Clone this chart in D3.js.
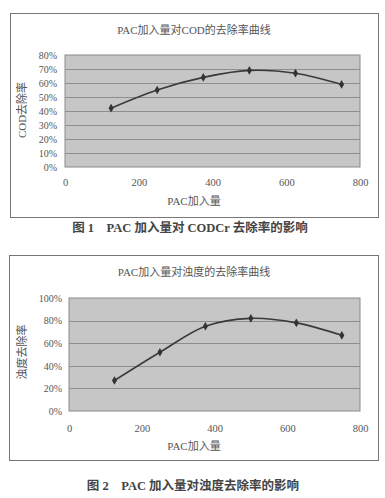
<!DOCTYPE html>
<html>
<head>
<meta charset="utf-8">
<script src="https://cdn.jsdelivr.net/npm/d3@7"></script>
<style>
  html, body { margin: 0; padding: 0; background: #fff; }
  text { font-family: "Liberation Serif", "DejaVu Serif", "Noto Sans CJK SC", serif; }
</style>
</head>
<body>
<div id="page"></div>
<script>
(function() {

  "use strict";

  // PAC dosage (x) and removal rates
  var dosage = [125, 250, 375, 500, 625, 750];
  var codRemoval = [0.42, 0.55, 0.64, 0.69, 0.67, 0.59];
  var turbidityRemoval = [0.27, 0.52, 0.75, 0.82, 0.78, 0.67];

  var xTicks = [0, 200, 400, 600, 800];
  var codTicks = [0, 0.1, 0.2, 0.3, 0.4, 0.5, 0.6, 0.7, 0.8];
  var turbTicks = [0, 0.2, 0.4, 0.6, 0.8, 1.0];

  var titles = ["PAC加入量对COD的去除率曲线", "PAC加入量对浊度的去除率曲线"];
  var yTitles = ["COD去除率", "浊度去除率"];
  var xTitle = "PAC加入量";
  var captions = ["图 1    PAC 加入量对 CODCr 去除率的影响", "图 2    PAC 加入量对浊度去除率的影响"];

  /* * * * * * * * * * * * * * * * * * * */

  var svg = d3.select("#page").append("svg")
    .attr("width", 385)
    .attr("height", 498);

  function drawChart(opt) {

    var g = svg.append("g");

    // outer chart frame
    g.append("rect")
      .attr("x", opt.box[0] + 0.5)
      .attr("y", opt.box[1] + 0.5)
      .attr("width", opt.box[2] - opt.box[0])
      .attr("height", opt.box[3] - opt.box[1])
      .attr("fill", "#fff")
      .attr("stroke", "#777")
      .attr("stroke-width", 1);

    g.append("text")
      .attr("x", 194)
      .attr("y", opt.titleY)
      .attr("text-anchor", "middle")
      .attr("font-size", 11)
      .attr("fill", "#555")
      .text(opt.title);

    var x = d3.scaleLinear().domain([0, 800]).range([opt.plot[0], opt.plot[2]]);
    var y = d3.scaleLinear().domain([0, opt.yMax]).range([opt.plot[3], opt.plot[1]]);

    // plot area
    g.append("rect")
      .attr("x", opt.plot[0])
      .attr("y", opt.plot[1])
      .attr("width", opt.plot[2] - opt.plot[0])
      .attr("height", opt.plot[3] - opt.plot[1])
      .attr("fill", "#c6c6c6")
      .attr("stroke", "#8a8a8a");

    g.selectAll(".grid")
      .data(opt.yTicks.slice(1, -1))
      .enter().append("line")
      .attr("x1", opt.plot[0])
      .attr("x2", opt.plot[2])
      .attr("y1", function(d) { return Math.round(y(d)) + 0.5; })
      .attr("y2", function(d) { return Math.round(y(d)) + 0.5; })
      .attr("stroke", "#8e8e8e")
      .attr("stroke-width", 1);

    var yAxis = g.append("g")
      .attr("transform", "translate(" + opt.plot[0] + ",0)")
      .call(d3.axisLeft(y).tickValues(opt.yTicks).tickSize(0).tickPadding(opt.yPad)
        .tickFormat(d3.format(".0%")));
    yAxis.select(".domain").remove();
    yAxis.selectAll("text")
      .attr("font-size", 10)
      .attr("fill", "#555")
      .style("font-family", "'Liberation Serif', 'DejaVu Serif', serif");

    var xAxis = g.append("g")
      .attr("transform", "translate(0," + opt.plot[3] + ")")
      .call(d3.axisBottom(x).tickValues(xTicks).tickSize(0).tickPadding(opt.xPad));
    xAxis.select(".domain").remove();
    xAxis.selectAll("text")
      .attr("font-size", 10.5)
      .attr("fill", "#555")
      .style("font-family", "'Liberation Serif', 'DejaVu Serif', serif");

    g.append("text")
      .attr("x", 194)
      .attr("y", opt.xTitleY)
      .attr("text-anchor", "middle")
      .attr("font-size", 11)
      .attr("fill", "#555")
      .text(xTitle);

    g.append("text")
      .attr("transform", "translate(" + opt.yTitleX + "," + opt.yTitleY + ") rotate(-90)")
      .attr("text-anchor", "middle")
      .attr("font-size", 11)
      .attr("fill", "#555")
      .text(opt.yTitle);

    var pts = dosage.map(function(d, i) { return [d, opt.values[i]]; });

    var line = d3.line()
      .x(function(d) { return x(d[0]); })
      .y(function(d) { return y(d[1]); })
      .curve(d3.curveCatmullRom.alpha(0.5));

    g.append("path")
      .datum(pts)
      .attr("d", line)
      .attr("fill", "none")
      .attr("stroke", "#3a3a3a")
      .attr("stroke-width", 1.6);

    g.selectAll(".pt")
      .data(pts)
      .enter().append("path")
      .attr("d", d3.symbol().type(d3.symbolDiamond).size(22))
      .attr("transform", function(d) { return "translate(" + x(d[0]) + "," + y(d[1]) + ")"; })
      .attr("fill", "#333");

    g.append("text")
      .attr("x", opt.capX)
      .attr("y", opt.capY)
      .attr("text-anchor", "middle")
      .attr("font-size", 12.5)
      .attr("font-weight", "bold")
      .attr("fill", "#444")
      .attr("xml:space", "preserve")
      .style("white-space", "pre")
      .text(opt.caption);
  }

  drawChart({
    box: [10, 13, 378, 217],
    plot: [65, 55, 360, 167],
    yMax: 0.8,
    yTicks: codTicks,
    values: codRemoval,
    title: titles[0],
    titleY: 34,
    yTitle: yTitles[0],
    yTitleX: 26,
    yTitleY: 110,
    xTitleY: 205,
    xPad: 12,
    yPad: 8,
    caption: captions[0],
    capX: 190,
    capY: 232
  });

  drawChart({
    box: [9, 255, 378, 460],
    plot: [69, 298, 360, 411],
    yMax: 1.0,
    yTicks: turbTicks,
    values: turbidityRemoval,
    title: titles[1],
    titleY: 276,
    yTitle: yTitles[1],
    yTitleX: 26,
    yTitleY: 352,
    xTitleY: 450,
    xPad: 14,
    yPad: 7,
    caption: captions[1],
    capX: 193,
    capY: 490
  });

})();
</script>
</body>
</html>
